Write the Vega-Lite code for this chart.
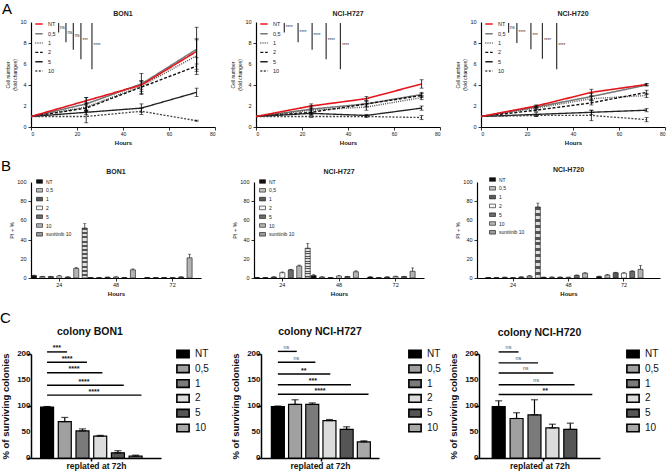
{
"$schema": "https://vega.github.io/schema/vega-lite/v6.json",
"padding": {"left": 0, "top": 2, "right": 0, "bottom": 0},
"background": "white",
"config": {
 "font": "Liberation Sans",
 "view": {"stroke": null},
 "axis": {"grid": false, "domainColor": "#000", "tickColor": "#000", "labelColor": "#111", "titleColor": "#111", "labelFont": "Liberation Sans", "titleFont": "Liberation Sans"},
 "legend": {"labelFont": "Liberation Sans", "labelColor": "#222"},
 "title": {"font": "Liberation Sans", "fontSize": 7, "fontWeight": "bold", "color": "#222", "offset": 2},
 "text": {"font": "Liberation Sans"}
},
"datasets": {
 "ytA": [{"v":0,"t":"0"},{"v":2,"t":"2"},{"v":4,"t":"4"},{"v":6,"t":"6"},{"v":8,"t":"8"},{"v":10,"t":"10"}],
 "ytB": [{"v":0,"t":"0"},{"v":20,"t":"20"},{"v":40,"t":"40"},{"v":60,"t":"60"},{"v":80,"t":"80"},{"v":100,"t":"100"}],
 "ytC": [{"v":0,"t":"0"},{"v":50,"t":"50"},{"v":100,"t":"100"},{"v":150,"t":"150"},{"v":200,"t":"200"}],
 "lines": [
  {"cell":"BON1","dose":"0,5","h":0,"v":1,"lo":1,"hi":1},
  {"cell":"BON1","dose":"0,5","h":24,"v":2.2,"lo":1.6,"hi":2.8},
  {"cell":"BON1","dose":"0,5","h":48,"v":4.1,"lo":3.1,"hi":5.1},
  {"cell":"BON1","dose":"0,5","h":72,"v":7.4,"lo":5.3,"hi":9.5},
  {"cell":"BON1","dose":"1","h":0,"v":1,"lo":1,"hi":1},
  {"cell":"BON1","dose":"1","h":24,"v":1.9,"lo":1.5,"hi":2.3},
  {"cell":"BON1","dose":"1","h":48,"v":3.9,"lo":3.4,"hi":4.4},
  {"cell":"BON1","dose":"1","h":72,"v":6.8,"lo":5.5,"hi":8.3},
  {"cell":"BON1","dose":"2","h":0,"v":1,"lo":1,"hi":1},
  {"cell":"BON1","dose":"2","h":24,"v":1.8,"lo":1.5,"hi":2.1},
  {"cell":"BON1","dose":"2","h":48,"v":3.8,"lo":3.2,"hi":4.3},
  {"cell":"BON1","dose":"2","h":72,"v":5.8,"lo":5.0,"hi":6.6},
  {"cell":"BON1","dose":"5","h":0,"v":1,"lo":1,"hi":1},
  {"cell":"BON1","dose":"5","h":24,"v":1.4,"lo":1.2,"hi":1.6},
  {"cell":"BON1","dose":"5","h":48,"v":1.8,"lo":1.4,"hi":2.2},
  {"cell":"BON1","dose":"5","h":72,"v":3.3,"lo":2.9,"hi":3.7},
  {"cell":"BON1","dose":"10","h":0,"v":1,"lo":1,"hi":1},
  {"cell":"BON1","dose":"10","h":24,"v":1.0,"lo":0.4,"hi":1.6},
  {"cell":"BON1","dose":"10","h":48,"v":1.5,"lo":1.2,"hi":1.8},
  {"cell":"BON1","dose":"10","h":72,"v":0.6,"lo":0.55,"hi":0.65},
  {"cell":"BON1","dose":"NT","h":0,"v":1,"lo":1,"hi":1},
  {"cell":"BON1","dose":"NT","h":24,"v":2.5,"lo":2.2,"hi":2.8},
  {"cell":"BON1","dose":"NT","h":48,"v":4.0,"lo":3.6,"hi":4.4},
  {"cell":"BON1","dose":"NT","h":72,"v":7.2,"lo":6.0,"hi":8.4},
  {"cell":"NCI-H727","dose":"0,5","h":0,"v":1,"lo":1,"hi":1},
  {"cell":"NCI-H727","dose":"0,5","h":24,"v":1.7,"lo":1.4,"hi":2.0},
  {"cell":"NCI-H727","dose":"0,5","h":48,"v":2.2,"lo":1.9,"hi":2.5},
  {"cell":"NCI-H727","dose":"0,5","h":72,"v":3.1,"lo":2.9,"hi":3.3},
  {"cell":"NCI-H727","dose":"1","h":0,"v":1,"lo":1,"hi":1},
  {"cell":"NCI-H727","dose":"1","h":24,"v":1.6,"lo":1.4,"hi":1.8},
  {"cell":"NCI-H727","dose":"1","h":48,"v":1.9,"lo":1.6,"hi":2.2},
  {"cell":"NCI-H727","dose":"1","h":72,"v":2.8,"lo":2.6,"hi":3.0},
  {"cell":"NCI-H727","dose":"2","h":0,"v":1,"lo":1,"hi":1},
  {"cell":"NCI-H727","dose":"2","h":24,"v":1.4,"lo":1.2,"hi":1.6},
  {"cell":"NCI-H727","dose":"2","h":48,"v":2.2,"lo":2.0,"hi":2.4},
  {"cell":"NCI-H727","dose":"2","h":72,"v":3.0,"lo":2.8,"hi":3.2},
  {"cell":"NCI-H727","dose":"5","h":0,"v":1,"lo":1,"hi":1},
  {"cell":"NCI-H727","dose":"5","h":24,"v":1.3,"lo":1.2,"hi":1.4},
  {"cell":"NCI-H727","dose":"5","h":48,"v":1.1,"lo":1.0,"hi":1.2},
  {"cell":"NCI-H727","dose":"5","h":72,"v":1.8,"lo":1.6,"hi":2.0},
  {"cell":"NCI-H727","dose":"10","h":0,"v":1,"lo":1,"hi":1},
  {"cell":"NCI-H727","dose":"10","h":24,"v":1.0,"lo":0.9,"hi":1.1},
  {"cell":"NCI-H727","dose":"10","h":48,"v":1.0,"lo":0.9,"hi":1.1},
  {"cell":"NCI-H727","dose":"10","h":72,"v":0.9,"lo":0.7,"hi":1.1},
  {"cell":"NCI-H727","dose":"NT","h":0,"v":1,"lo":1,"hi":1},
  {"cell":"NCI-H727","dose":"NT","h":24,"v":2.0,"lo":1.8,"hi":2.2},
  {"cell":"NCI-H727","dose":"NT","h":48,"v":2.7,"lo":2.5,"hi":2.9},
  {"cell":"NCI-H727","dose":"NT","h":72,"v":4.1,"lo":3.7,"hi":4.5},
  {"cell":"NCI-H720","dose":"0,5","h":0,"v":1,"lo":1,"hi":1},
  {"cell":"NCI-H720","dose":"0,5","h":24,"v":1.9,"lo":1.8,"hi":2.0},
  {"cell":"NCI-H720","dose":"0,5","h":48,"v":2.9,"lo":2.6,"hi":3.2},
  {"cell":"NCI-H720","dose":"0,5","h":72,"v":4.0,"lo":3.9,"hi":4.1},
  {"cell":"NCI-H720","dose":"1","h":0,"v":1,"lo":1,"hi":1},
  {"cell":"NCI-H720","dose":"1","h":24,"v":1.8,"lo":1.7,"hi":1.9},
  {"cell":"NCI-H720","dose":"1","h":48,"v":2.7,"lo":2.5,"hi":2.9},
  {"cell":"NCI-H720","dose":"1","h":72,"v":3.0,"lo":2.8,"hi":3.2},
  {"cell":"NCI-H720","dose":"2","h":0,"v":1,"lo":1,"hi":1},
  {"cell":"NCI-H720","dose":"2","h":24,"v":1.6,"lo":1.5,"hi":1.7},
  {"cell":"NCI-H720","dose":"2","h":48,"v":2.3,"lo":2.1,"hi":2.5},
  {"cell":"NCI-H720","dose":"2","h":72,"v":3.3,"lo":3.1,"hi":3.5},
  {"cell":"NCI-H720","dose":"5","h":0,"v":1,"lo":1,"hi":1},
  {"cell":"NCI-H720","dose":"5","h":24,"v":1.2,"lo":1.0,"hi":1.4},
  {"cell":"NCI-H720","dose":"5","h":48,"v":1.4,"lo":1.2,"hi":1.6},
  {"cell":"NCI-H720","dose":"5","h":72,"v":1.6,"lo":1.45,"hi":1.75},
  {"cell":"NCI-H720","dose":"10","h":0,"v":1,"lo":1,"hi":1},
  {"cell":"NCI-H720","dose":"10","h":24,"v":1.1,"lo":1.0,"hi":1.2},
  {"cell":"NCI-H720","dose":"10","h":48,"v":1.1,"lo":0.6,"hi":1.6},
  {"cell":"NCI-H720","dose":"10","h":72,"v":0.7,"lo":0.5,"hi":0.9},
  {"cell":"NCI-H720","dose":"NT","h":0,"v":1,"lo":1,"hi":1},
  {"cell":"NCI-H720","dose":"NT","h":24,"v":2.0,"lo":1.9,"hi":2.1},
  {"cell":"NCI-H720","dose":"NT","h":48,"v":3.3,"lo":3.0,"hi":3.6},
  {"cell":"NCI-H720","dose":"NT","h":72,"v":4.05,"lo":3.95,"hi":4.15}
 ],
 "sigA": [
  {"cell":"BON1","sx":12.0,"y1":9.9,"y2":9.0,"mid":9.45,"lab":"ns"},
  {"cell":"BON1","sx":15.2,"y1":9.9,"y2":8.06,"mid":8.98,"lab":"ns"},
  {"cell":"BON1","sx":18.4,"y1":9.9,"y2":7.36,"mid":8.63,"lab":"ns"},
  {"cell":"BON1","sx":21.7,"y1":9.9,"y2":6.46,"mid":8.18,"lab":"***"},
  {"cell":"BON1","sx":26.5,"y1":9.9,"y2":5.5,"mid":7.7,"lab":"****"},
  {"cell":"NCI-H727","sx":12.3,"y1":9.9,"y2":9.0,"mid":9.45,"lab":"****"},
  {"cell":"NCI-H727","sx":18.3,"y1":9.9,"y2":8.06,"mid":8.98,"lab":"****"},
  {"cell":"NCI-H727","sx":24.4,"y1":9.9,"y2":7.36,"mid":8.63,"lab":"****"},
  {"cell":"NCI-H727","sx":30.5,"y1":9.9,"y2":6.46,"mid":8.18,"lab":"****"},
  {"cell":"NCI-H727","sx":36.7,"y1":9.9,"y2":5.5,"mid":7.7,"lab":"****"},
  {"cell":"NCI-H720","sx":12.0,"y1":9.9,"y2":8.98,"mid":9.44,"lab":"ns"},
  {"cell":"NCI-H720","sx":15.6,"y1":9.9,"y2":8.0,"mid":8.95,"lab":"****"},
  {"cell":"NCI-H720","sx":21.7,"y1":9.9,"y2":7.4,"mid":8.65,"lab":"***"},
  {"cell":"NCI-H720","sx":26.7,"y1":9.9,"y2":6.5,"mid":8.2,"lab":"****"},
  {"cell":"NCI-H720","sx":32.9,"y1":9.9,"y2":5.5,"mid":7.7,"lab":"****"}
 ],
 "pi": [
  {"cell":"BON1","hr":"24","grp":"NT","v":2.5,"top":3.0},
  {"cell":"BON1","hr":"24","grp":"0,5","v":1.5,"top":1.8},
  {"cell":"BON1","hr":"24","grp":"1","v":1.5,"top":1.8},
  {"cell":"BON1","hr":"24","grp":"2","v":2.0,"top":2.5},
  {"cell":"BON1","hr":"24","grp":"5","v":1.0,"top":1.2},
  {"cell":"BON1","hr":"24","grp":"10","v":10,"top":11},
  {"cell":"BON1","hr":"24","grp":"sunitinib 10","v":52,"top":56.6},
  {"cell":"BON1","hr":"48","grp":"NT","v":0.5,"top":0.7},
  {"cell":"BON1","hr":"48","grp":"0,5","v":0.5,"top":0.7},
  {"cell":"BON1","hr":"48","grp":"1","v":0.8,"top":1.0},
  {"cell":"BON1","hr":"48","grp":"2","v":1.0,"top":1.3},
  {"cell":"BON1","hr":"48","grp":"5","v":0.5,"top":0.7},
  {"cell":"BON1","hr":"48","grp":"10","v":8.5,"top":9.5},
  {"cell":"BON1","hr":"72","grp":"NT","v":0.5,"top":0.7},
  {"cell":"BON1","hr":"72","grp":"0,5","v":0.5,"top":0.7},
  {"cell":"BON1","hr":"72","grp":"1","v":0.5,"top":0.7},
  {"cell":"BON1","hr":"72","grp":"2","v":0.5,"top":0.7},
  {"cell":"BON1","hr":"72","grp":"5","v":1.0,"top":1.3},
  {"cell":"BON1","hr":"72","grp":"10","v":21,"top":24.8},
  {"cell":"NCI-H727","hr":"24","grp":"NT","v":0.5,"top":0.7},
  {"cell":"NCI-H727","hr":"24","grp":"0,5","v":0.5,"top":0.7},
  {"cell":"NCI-H727","hr":"24","grp":"1","v":1.0,"top":1.3},
  {"cell":"NCI-H727","hr":"24","grp":"2","v":5.5,"top":6.3},
  {"cell":"NCI-H727","hr":"24","grp":"5","v":8.5,"top":9.1},
  {"cell":"NCI-H727","hr":"24","grp":"10","v":12.5,"top":13.5},
  {"cell":"NCI-H727","hr":"24","grp":"sunitinib 10","v":31,"top":36},
  {"cell":"NCI-H727","hr":"48","grp":"NT","v":2.5,"top":3.5},
  {"cell":"NCI-H727","hr":"48","grp":"0,5","v":1.0,"top":1.3},
  {"cell":"NCI-H727","hr":"48","grp":"1","v":0.5,"top":0.7},
  {"cell":"NCI-H727","hr":"48","grp":"2","v":2.0,"top":2.5},
  {"cell":"NCI-H727","hr":"48","grp":"5","v":1.5,"top":1.8},
  {"cell":"NCI-H727","hr":"48","grp":"10","v":6.5,"top":7.5},
  {"cell":"NCI-H727","hr":"72","grp":"NT","v":1.0,"top":1.3},
  {"cell":"NCI-H727","hr":"72","grp":"0,5","v":0.5,"top":0.7},
  {"cell":"NCI-H727","hr":"72","grp":"1","v":1.0,"top":1.3},
  {"cell":"NCI-H727","hr":"72","grp":"2","v":1.5,"top":2.0},
  {"cell":"NCI-H727","hr":"72","grp":"5","v":1.5,"top":1.8},
  {"cell":"NCI-H727","hr":"72","grp":"10","v":7,"top":10.5},
  {"cell":"NCI-H720","hr":"24","grp":"NT","v":0.5,"top":0.7},
  {"cell":"NCI-H720","hr":"24","grp":"0,5","v":0.5,"top":0.7},
  {"cell":"NCI-H720","hr":"24","grp":"1","v":0.7,"top":0.9},
  {"cell":"NCI-H720","hr":"24","grp":"2","v":0.5,"top":0.7},
  {"cell":"NCI-H720","hr":"24","grp":"5","v":1.0,"top":1.3},
  {"cell":"NCI-H720","hr":"24","grp":"10","v":2.0,"top":2.5},
  {"cell":"NCI-H720","hr":"24","grp":"sunitinib 10","v":74,"top":78},
  {"cell":"NCI-H720","hr":"48","grp":"NT","v":0.7,"top":0.9},
  {"cell":"NCI-H720","hr":"48","grp":"0,5","v":0.7,"top":1.2},
  {"cell":"NCI-H720","hr":"48","grp":"1","v":0.8,"top":1.0},
  {"cell":"NCI-H720","hr":"48","grp":"2","v":0.7,"top":0.9},
  {"cell":"NCI-H720","hr":"48","grp":"5","v":2.7,"top":3.2},
  {"cell":"NCI-H720","hr":"48","grp":"10","v":5,"top":5.5},
  {"cell":"NCI-H720","hr":"72","grp":"NT","v":1.5,"top":2.0},
  {"cell":"NCI-H720","hr":"72","grp":"0,5","v":3,"top":3.8},
  {"cell":"NCI-H720","hr":"72","grp":"1","v":5.5,"top":6.0},
  {"cell":"NCI-H720","hr":"72","grp":"2","v":5,"top":5.5},
  {"cell":"NCI-H720","hr":"72","grp":"5","v":7,"top":7.5},
  {"cell":"NCI-H720","hr":"72","grp":"10","v":9,"top":13}
 ],
 "col": [
  {"cell":"BON1","i":0,"grp":"NT","v":98,"hi":99},
  {"cell":"BON1","i":1,"grp":"0,5","v":70,"hi":78},
  {"cell":"BON1","i":2,"grp":"1","v":52,"hi":56},
  {"cell":"BON1","i":3,"grp":"2","v":42,"hi":43.5},
  {"cell":"BON1","i":4,"grp":"5","v":10,"hi":14},
  {"cell":"BON1","i":5,"grp":"10","v":3.5,"hi":5.5},
  {"cell":"NCI-H727","i":0,"grp":"NT","v":99,"hi":100},
  {"cell":"NCI-H727","i":1,"grp":"0,5","v":103,"hi":112},
  {"cell":"NCI-H727","i":2,"grp":"1","v":103,"hi":106},
  {"cell":"NCI-H727","i":3,"grp":"2","v":72,"hi":74},
  {"cell":"NCI-H727","i":4,"grp":"5","v":55,"hi":60},
  {"cell":"NCI-H727","i":5,"grp":"10","v":31,"hi":33},
  {"cell":"NCI-H720","i":0,"grp":"NT","v":99,"hi":110},
  {"cell":"NCI-H720","i":1,"grp":"0,5","v":76,"hi":87},
  {"cell":"NCI-H720","i":2,"grp":"1","v":83,"hi":112},
  {"cell":"NCI-H720","i":3,"grp":"2","v":58,"hi":65},
  {"cell":"NCI-H720","i":4,"grp":"5","v":55,"hi":67}
 ],
 "sigC": [
  {"cell":"BON1","x0":0,"x2":1.13,"y":204,"mx":0.55,"lab":"***"},
  {"cell":"BON1","x0":0,"x2":2.25,"y":184,"mx":1.13,"lab":"****"},
  {"cell":"BON1","x0":0,"x2":3.12,"y":164,"mx":1.52,"lab":"****"},
  {"cell":"BON1","x0":0,"x2":4.33,"y":140,"mx":2.08,"lab":"****"},
  {"cell":"BON1","x0":0,"x2":5.33,"y":121,"mx":2.65,"lab":"****"},
  {"cell":"NCI-H727","x0":0,"x2":1.1,"y":205,"mx":0.5,"lab":"ns"},
  {"cell":"NCI-H727","x0":0,"x2":2.18,"y":184,"mx":1.08,"lab":"ns"},
  {"cell":"NCI-H727","x0":0,"x2":3.05,"y":161.5,"mx":1.5,"lab":"**"},
  {"cell":"NCI-H727","x0":0,"x2":4.25,"y":141,"mx":2.04,"lab":"***"},
  {"cell":"NCI-H727","x0":0,"x2":5.27,"y":122.5,"mx":2.45,"lab":"****"},
  {"cell":"NCI-H720","x0":0,"x2":1.11,"y":204,"mx":0.55,"lab":"ns"},
  {"cell":"NCI-H720","x0":0,"x2":2.2,"y":183,"mx":1.1,"lab":"ns"},
  {"cell":"NCI-H720","x0":0,"x2":3.05,"y":163.5,"mx":1.5,"lab":"ns"},
  {"cell":"NCI-H720","x0":0,"x2":4.24,"y":141,"mx":2.1,"lab":"ns"},
  {"cell":"NCI-H720","x0":0,"x2":5.23,"y":122,"mx":2.6,"lab":"**"}
 ]
},
"spacing": 13,
"bounds": "full",
"resolve": {"scale": {"color": "independent", "strokeDash": "independent", "strokeWidth": "independent", "xOffset": "independent"}},
"vconcat": [
 {
  "title": {"text": "A", "anchor": "start", "frame": "group", "fontSize": 15, "fontWeight": "normal", "color": "#000", "offset": -7, "dx": -29},
  "spacing": 41,
  "bounds": "flush",
  "resolve": {"scale": {"color": "independent", "strokeDash": "independent", "strokeWidth": "independent"}},
  "hconcat": [
   {
    "width": 184, "height": 105, "title": {"text": "BON1"},
    "layer": [
     {"data": {"name": "lines"}, "transform": [{"filter": "datum.cell === 'BON1'"}],
      "mark": {"type": "line"},
      "encoding": {
       "x": {"field": "h", "type": "quantitative", "title": "Hours", "scale": {"domain": [0, 80], "nice": false},
             "axis": {"values": [0,2.5,5,7.5,10,12.5,15,17.5,20,22.5,25,27.5,30,32.5,35,37.5,40,42.5,45,47.5,50,52.5,55,57.5,60,62.5,65,67.5,70,72.5,75,77.5,80], "labelExpr": "datum.value % 20 === 0 ? datum.label : ''", "labelOverlap": false, "tickSize": {"condition": {"test": "datum.value % 20 === 0", "value": 3}, "value": 1.6}, "labelFontSize": 5, "labelPadding": 1, "titleFontSize": 6, "titleFontWeight": "bold", "titlePadding": 3, "domainWidth": 1.2, "tickWidth": 0.8}},
       "y": {"field": "v", "type": "quantitative", "title": ["Cell number", "(fold changes)"], "scale": {"domain": [0, 10], "nice": false},
             "axis": {"values": [0,2,4,6,8,10], "labels": false, "tickSize": 3, "titleFontSize": 5, "titleFontWeight": "normal", "titlePadding": 10, "domainWidth": 1.2, "tickWidth": 0.8}},
       "color": {"field": "dose", "type": "nominal", "scale": {"domain": ["NT","0,5","1","2","5","10"], "range": ["#e3161d","#777777","#555555","#111111","#222222","#444444"]},
                 "legend": {"orient": "none", "legendX": 3, "legendY": -3, "title": null, "labelFontSize": 5.5, "labelColor": "#222", "symbolType": "stroke", "symbolSize": 55, "symbolStrokeWidth": 1.2, "rowPadding": 1.3, "labelOffset": 4, "padding": 0}},
       "strokeDash": {"field": "dose", "type": "nominal", "scale": {"domain": ["NT","0,5","1","2","5","10"], "range": [[1,0],[1,0],[1,1.2],[3,1.8],[1,0],[2,1.5]]}},
       "strokeWidth": {"field": "dose", "type": "ordinal", "scale": {"domain": ["NT","0,5","1","2","5","10"], "range": [1.6,1.3,0.9,1.3,0.9,0.9]}, "legend": null}
      }},
     {"data": {"name": "lines"}, "transform": [{"filter": "datum.cell === 'BON1' && datum.h > 0"}],
      "mark": {"type": "errorbar", "color": "#000", "thickness": 0.8, "ticks": {"size": 4, "thickness": 0.8}},
      "encoding": {"x": {"field": "h", "type": "quantitative", "title": "Hours"}, "y": {"field": "lo", "type": "quantitative", "title": ["Cell number", "(fold changes)"]}, "y2": {"field": "hi"}}},
     {"data": {"name": "sigA"}, "transform": [{"filter": "datum.cell === 'BON1'"}],
      "mark": {"type": "rule", "color": "#333", "strokeWidth": 1.2},
      "encoding": {"x": {"field": "sx", "type": "quantitative", "title": "Hours"}, "y": {"field": "y1", "type": "quantitative", "title": ["Cell number", "(fold changes)"]}, "y2": {"field": "y2"}}},
     {"data": {"name": "sigA"}, "transform": [{"filter": "datum.cell === 'BON1'"}],
      "mark": {"type": "text", "align": "left", "baseline": "middle", "dx": 1.5, "fontSize": 4.5, "fill": "#333"},
      "encoding": {"x": {"field": "sx", "type": "quantitative", "title": "Hours"}, "y": {"field": "mid", "type": "quantitative", "title": ["Cell number", "(fold changes)"]}, "text": {"field": "lab"}}},
     {"data": {"name": "ytA"},
      "mark": {"type": "text", "align": "right", "baseline": "middle", "dx": -4.5, "fontSize": 5.5, "fill": "#111"},
      "encoding": {"x": {"datum": 0, "type": "quantitative"}, "y": {"field": "v", "type": "quantitative", "title": ["Cell number", "(fold changes)"]}, "text": {"field": "t"}}}
    ]
   },
   {
    "width": 184, "height": 105, "title": {"text": "NCI-H727"},
    "layer": [
     {"data": {"name": "lines"}, "transform": [{"filter": "datum.cell === 'NCI-H727'"}],
      "mark": {"type": "line"},
      "encoding": {
       "x": {"field": "h", "type": "quantitative", "title": "Hours", "scale": {"domain": [0, 80], "nice": false},
             "axis": {"values": [0,2.5,5,7.5,10,12.5,15,17.5,20,22.5,25,27.5,30,32.5,35,37.5,40,42.5,45,47.5,50,52.5,55,57.5,60,62.5,65,67.5,70,72.5,75,77.5,80], "labelExpr": "datum.value % 20 === 0 ? datum.label : ''", "labelOverlap": false, "tickSize": {"condition": {"test": "datum.value % 20 === 0", "value": 3}, "value": 1.6}, "labelFontSize": 5, "labelPadding": 1, "titleFontSize": 6, "titleFontWeight": "bold", "titlePadding": 3, "domainWidth": 1.2, "tickWidth": 0.8}},
       "y": {"field": "v", "type": "quantitative", "title": ["Cell number", "(fold changes)"], "scale": {"domain": [0, 10], "nice": false},
             "axis": {"values": [0,2,4,6,8,10], "labels": false, "tickSize": 3, "titleFontSize": 5, "titleFontWeight": "normal", "titlePadding": 10, "domainWidth": 1.2, "tickWidth": 0.8}},
       "color": {"field": "dose", "type": "nominal", "scale": {"domain": ["NT","0,5","1","2","5","10"], "range": ["#e3161d","#777777","#555555","#111111","#222222","#444444"]},
                 "legend": {"orient": "none", "legendX": 3, "legendY": -3, "title": null, "labelFontSize": 5.5, "labelColor": "#222", "symbolType": "stroke", "symbolSize": 55, "symbolStrokeWidth": 1.2, "rowPadding": 1.3, "labelOffset": 4, "padding": 0}},
       "strokeDash": {"field": "dose", "type": "nominal", "scale": {"domain": ["NT","0,5","1","2","5","10"], "range": [[1,0],[1,0],[1,1.2],[3,1.8],[1,0],[2,1.5]]}},
       "strokeWidth": {"field": "dose", "type": "ordinal", "scale": {"domain": ["NT","0,5","1","2","5","10"], "range": [1.6,1.3,0.9,1.3,0.9,0.9]}, "legend": null}
      }},
     {"data": {"name": "lines"}, "transform": [{"filter": "datum.cell === 'NCI-H727' && datum.h > 0"}],
      "mark": {"type": "errorbar", "color": "#000", "thickness": 0.8, "ticks": {"size": 4, "thickness": 0.8}},
      "encoding": {"x": {"field": "h", "type": "quantitative", "title": "Hours"}, "y": {"field": "lo", "type": "quantitative", "title": ["Cell number", "(fold changes)"]}, "y2": {"field": "hi"}}},
     {"data": {"name": "sigA"}, "transform": [{"filter": "datum.cell === 'NCI-H727'"}],
      "mark": {"type": "rule", "color": "#333", "strokeWidth": 1.2},
      "encoding": {"x": {"field": "sx", "type": "quantitative", "title": "Hours"}, "y": {"field": "y1", "type": "quantitative", "title": ["Cell number", "(fold changes)"]}, "y2": {"field": "y2"}}},
     {"data": {"name": "sigA"}, "transform": [{"filter": "datum.cell === 'NCI-H727'"}],
      "mark": {"type": "text", "align": "left", "baseline": "middle", "dx": 1.5, "fontSize": 4.5, "fill": "#333"},
      "encoding": {"x": {"field": "sx", "type": "quantitative", "title": "Hours"}, "y": {"field": "mid", "type": "quantitative", "title": ["Cell number", "(fold changes)"]}, "text": {"field": "lab"}}},
     {"data": {"name": "ytA"},
      "mark": {"type": "text", "align": "right", "baseline": "middle", "dx": -4.5, "fontSize": 5.5, "fill": "#111"},
      "encoding": {"x": {"datum": 0, "type": "quantitative"}, "y": {"field": "v", "type": "quantitative", "title": ["Cell number", "(fold changes)"]}, "text": {"field": "t"}}}
    ]
   },
   {
    "width": 184, "height": 105, "title": {"text": "NCI-H720"},
    "layer": [
     {"data": {"name": "lines"}, "transform": [{"filter": "datum.cell === 'NCI-H720'"}],
      "mark": {"type": "line"},
      "encoding": {
       "x": {"field": "h", "type": "quantitative", "title": "Hours", "scale": {"domain": [0, 80], "nice": false},
             "axis": {"values": [0,2.5,5,7.5,10,12.5,15,17.5,20,22.5,25,27.5,30,32.5,35,37.5,40,42.5,45,47.5,50,52.5,55,57.5,60,62.5,65,67.5,70,72.5,75,77.5,80], "labelExpr": "datum.value % 20 === 0 ? datum.label : ''", "labelOverlap": false, "tickSize": {"condition": {"test": "datum.value % 20 === 0", "value": 3}, "value": 1.6}, "labelFontSize": 5, "labelPadding": 1, "titleFontSize": 6, "titleFontWeight": "bold", "titlePadding": 3, "domainWidth": 1.2, "tickWidth": 0.8}},
       "y": {"field": "v", "type": "quantitative", "title": ["Cell number", "(fold changes)"], "scale": {"domain": [0, 10], "nice": false},
             "axis": {"values": [0,2,4,6,8,10], "labels": false, "tickSize": 3, "titleFontSize": 5, "titleFontWeight": "normal", "titlePadding": 10, "domainWidth": 1.2, "tickWidth": 0.8}},
       "color": {"field": "dose", "type": "nominal", "scale": {"domain": ["NT","0,5","1","2","5","10"], "range": ["#e3161d","#777777","#555555","#111111","#222222","#444444"]},
                 "legend": {"orient": "none", "legendX": 3, "legendY": -3, "title": null, "labelFontSize": 5.5, "labelColor": "#222", "symbolType": "stroke", "symbolSize": 55, "symbolStrokeWidth": 1.2, "rowPadding": 1.3, "labelOffset": 4, "padding": 0}},
       "strokeDash": {"field": "dose", "type": "nominal", "scale": {"domain": ["NT","0,5","1","2","5","10"], "range": [[1,0],[1,0],[1,1.2],[3,1.8],[1,0],[2,1.5]]}},
       "strokeWidth": {"field": "dose", "type": "ordinal", "scale": {"domain": ["NT","0,5","1","2","5","10"], "range": [1.6,1.3,0.9,1.3,0.9,0.9]}, "legend": null}
      }},
     {"data": {"name": "lines"}, "transform": [{"filter": "datum.cell === 'NCI-H720' && datum.h > 0"}],
      "mark": {"type": "errorbar", "color": "#000", "thickness": 0.8, "ticks": {"size": 4, "thickness": 0.8}},
      "encoding": {"x": {"field": "h", "type": "quantitative", "title": "Hours"}, "y": {"field": "lo", "type": "quantitative", "title": ["Cell number", "(fold changes)"]}, "y2": {"field": "hi"}}},
     {"data": {"name": "sigA"}, "transform": [{"filter": "datum.cell === 'NCI-H720'"}],
      "mark": {"type": "rule", "color": "#333", "strokeWidth": 1.2},
      "encoding": {"x": {"field": "sx", "type": "quantitative", "title": "Hours"}, "y": {"field": "y1", "type": "quantitative", "title": ["Cell number", "(fold changes)"]}, "y2": {"field": "y2"}}},
     {"data": {"name": "sigA"}, "transform": [{"filter": "datum.cell === 'NCI-H720'"}],
      "mark": {"type": "text", "align": "left", "baseline": "middle", "dx": 1.5, "fontSize": 4.5, "fill": "#333"},
      "encoding": {"x": {"field": "sx", "type": "quantitative", "title": "Hours"}, "y": {"field": "mid", "type": "quantitative", "title": ["Cell number", "(fold changes)"]}, "text": {"field": "lab"}}},
     {"data": {"name": "ytA"},
      "mark": {"type": "text", "align": "right", "baseline": "middle", "dx": -4.5, "fontSize": 5.5, "fill": "#111"},
      "encoding": {"x": {"datum": 0, "type": "quantitative"}, "y": {"field": "v", "type": "quantitative", "title": ["Cell number", "(fold changes)"]}, "text": {"field": "t"}}}
    ]
   }
  ]
 },
 {
  "title": {"text": "B", "anchor": "start", "frame": "group", "fontSize": 15, "fontWeight": "normal", "color": "#000", "offset": -7.5, "dx": -30},
  "spacing": 53,
  "bounds": "flush",
  "resolve": {"scale": {"color": "independent", "xOffset": "independent"}},
  "hconcat": [
   {
    "width": 170, "height": 96, "title": {"text": "BON1", "offset": 3},
    "layer": [
     {"data": {"name": "pi"}, "transform": [{"filter": "datum.cell === 'BON1'"}],
      "mark": {"type": "bar", "stroke": "#111", "strokeWidth": 0.6},
      "encoding": {
       "x": {"field": "hr", "type": "nominal", "title": "Hours", "scale": {"domain": ["24","48","72"], "paddingInner": 0, "paddingOuter": 0}, "axis": {"labelAngle": 0, "labelFontSize": 5.5, "labelPadding": 1, "tickSize": 3, "titleFontSize": 6, "titleFontWeight": "bold", "titlePadding": 3, "domainWidth": 1.2, "tickWidth": 0.8}},
       "xOffset": {"field": "grp", "type": "nominal", "scale": {"domain": ["NT","0,5","1","2","5","10","sunitinib 10"], "paddingInner": 0.4, "paddingOuter": 0.05}},
       "y": {"field": "v", "type": "quantitative", "stack": null, "title": "PI + %", "scale": {"domain": [0, 100], "nice": false}, "axis": {"values": [0,20,40,60,80,100], "labels": false, "tickSize": 3, "titleFontSize": 5.5, "titleFontWeight": "normal", "titlePadding": 13, "domainWidth": 1.2, "tickWidth": 0.8}},
       "color": {"condition": {"test": "datum.grp === 'sunitinib 10'", "value": {"gradient": "linear", "x1": 0, "y1": 0, "x2": 0, "y2": 1, "stops": [
         {"offset":0,"color":"#555"},{"offset":0.0417,"color":"#555"},{"offset":0.0417,"color":"#e0e0e0"},{"offset":0.0833,"color":"#e0e0e0"},
         {"offset":0.0833,"color":"#555"},{"offset":0.125,"color":"#555"},{"offset":0.125,"color":"#e0e0e0"},{"offset":0.1667,"color":"#e0e0e0"},
         {"offset":0.1667,"color":"#555"},{"offset":0.2083,"color":"#555"},{"offset":0.2083,"color":"#e0e0e0"},{"offset":0.25,"color":"#e0e0e0"},
         {"offset":0.25,"color":"#555"},{"offset":0.2917,"color":"#555"},{"offset":0.2917,"color":"#e0e0e0"},{"offset":0.3333,"color":"#e0e0e0"},
         {"offset":0.3333,"color":"#555"},{"offset":0.375,"color":"#555"},{"offset":0.375,"color":"#e0e0e0"},{"offset":0.4167,"color":"#e0e0e0"},
         {"offset":0.4167,"color":"#555"},{"offset":0.4583,"color":"#555"},{"offset":0.4583,"color":"#e0e0e0"},{"offset":0.5,"color":"#e0e0e0"},
         {"offset":0.5,"color":"#555"},{"offset":0.5417,"color":"#555"},{"offset":0.5417,"color":"#e0e0e0"},{"offset":0.5833,"color":"#e0e0e0"},
         {"offset":0.5833,"color":"#555"},{"offset":0.625,"color":"#555"},{"offset":0.625,"color":"#e0e0e0"},{"offset":0.6667,"color":"#e0e0e0"},
         {"offset":0.6667,"color":"#555"},{"offset":0.7083,"color":"#555"},{"offset":0.7083,"color":"#e0e0e0"},{"offset":0.75,"color":"#e0e0e0"},
         {"offset":0.75,"color":"#555"},{"offset":0.7917,"color":"#555"},{"offset":0.7917,"color":"#e0e0e0"},{"offset":0.8333,"color":"#e0e0e0"},
         {"offset":0.8333,"color":"#555"},{"offset":0.875,"color":"#555"},{"offset":0.875,"color":"#e0e0e0"},{"offset":0.9167,"color":"#e0e0e0"},
         {"offset":0.9167,"color":"#555"},{"offset":0.9583,"color":"#555"},{"offset":0.9583,"color":"#e0e0e0"},{"offset":1,"color":"#e0e0e0"}]}},
         "field": "grp", "type": "nominal", "scale": {"domain": ["NT","0,5","1","2","5","10","sunitinib 10"], "range": ["#111111","#bdbdbd","#5a5a5a","#f7f7f7","#6b6b6b","#b3b3b3","#999999"]},
         "legend": {"orient": "none", "legendX": 5, "legendY": -4, "title": null, "labelFontSize": 5, "labelColor": "#222", "symbolType": "M-1,-0.6H1V0.6H-1Z", "symbolSize": 36, "symbolStrokeColor": "#111", "symbolStrokeWidth": 0.6, "rowPadding": 1.8, "labelOffset": 3, "padding": 0}}
      }},
     {"data": {"name": "pi"}, "transform": [{"filter": "datum.cell === 'BON1' && datum.top > datum.v"}],
      "mark": {"type": "rule", "color": "#111", "strokeWidth": 0.7},
      "encoding": {"x": {"field": "hr", "type": "nominal", "title": "Hours"}, "xOffset": {"field": "grp", "type": "nominal"}, "y": {"field": "v", "type": "quantitative", "title": "PI + %"}, "y2": {"field": "top"}}},
     {"data": {"name": "pi"}, "transform": [{"filter": "datum.cell === 'BON1' && datum.top > datum.v"}],
      "mark": {"type": "tick", "color": "#111", "size": 3, "thickness": 0.7},
      "encoding": {"x": {"field": "hr", "type": "nominal", "title": "Hours"}, "xOffset": {"field": "grp", "type": "nominal"}, "y": {"field": "top", "type": "quantitative", "title": "PI + %"}}},
     {"data": {"name": "ytB"},
      "mark": {"type": "text", "align": "right", "baseline": "middle", "dx": -4.5, "fontSize": 5.5, "fill": "#111"},
      "encoding": {"x": {"datum": "24", "type": "nominal", "bandPosition": 0}, "y": {"field": "v", "type": "quantitative", "title": "PI + %"}, "text": {"field": "t"}}}
    ]
   },
   {
    "width": 170, "height": 96, "title": {"text": "NCI-H727", "offset": 3},
    "layer": [
     {"data": {"name": "pi"}, "transform": [{"filter": "datum.cell === 'NCI-H727'"}],
      "mark": {"type": "bar", "stroke": "#111", "strokeWidth": 0.6},
      "encoding": {
       "x": {"field": "hr", "type": "nominal", "title": "Hours", "scale": {"domain": ["24","48","72"], "paddingInner": 0, "paddingOuter": 0}, "axis": {"labelAngle": 0, "labelFontSize": 5.5, "labelPadding": 1, "tickSize": 3, "titleFontSize": 6, "titleFontWeight": "bold", "titlePadding": 3, "domainWidth": 1.2, "tickWidth": 0.8}},
       "xOffset": {"field": "grp", "type": "nominal", "scale": {"domain": ["NT","0,5","1","2","5","10","sunitinib 10"], "paddingInner": 0.4, "paddingOuter": 0.05}},
       "y": {"field": "v", "type": "quantitative", "stack": null, "title": "PI + %", "scale": {"domain": [0, 100], "nice": false}, "axis": {"values": [0,20,40,60,80,100], "labels": false, "tickSize": 3, "titleFontSize": 5.5, "titleFontWeight": "normal", "titlePadding": 13, "domainWidth": 1.2, "tickWidth": 0.8}},
       "color": {"condition": {"test": "datum.grp === 'sunitinib 10'", "value": {"gradient": "linear", "x1": 0, "y1": 0, "x2": 0, "y2": 1, "stops": [
         {"offset":0,"color":"#555"},{"offset":0.0417,"color":"#555"},{"offset":0.0417,"color":"#e0e0e0"},{"offset":0.0833,"color":"#e0e0e0"},
         {"offset":0.0833,"color":"#555"},{"offset":0.125,"color":"#555"},{"offset":0.125,"color":"#e0e0e0"},{"offset":0.1667,"color":"#e0e0e0"},
         {"offset":0.1667,"color":"#555"},{"offset":0.2083,"color":"#555"},{"offset":0.2083,"color":"#e0e0e0"},{"offset":0.25,"color":"#e0e0e0"},
         {"offset":0.25,"color":"#555"},{"offset":0.2917,"color":"#555"},{"offset":0.2917,"color":"#e0e0e0"},{"offset":0.3333,"color":"#e0e0e0"},
         {"offset":0.3333,"color":"#555"},{"offset":0.375,"color":"#555"},{"offset":0.375,"color":"#e0e0e0"},{"offset":0.4167,"color":"#e0e0e0"},
         {"offset":0.4167,"color":"#555"},{"offset":0.4583,"color":"#555"},{"offset":0.4583,"color":"#e0e0e0"},{"offset":0.5,"color":"#e0e0e0"},
         {"offset":0.5,"color":"#555"},{"offset":0.5417,"color":"#555"},{"offset":0.5417,"color":"#e0e0e0"},{"offset":0.5833,"color":"#e0e0e0"},
         {"offset":0.5833,"color":"#555"},{"offset":0.625,"color":"#555"},{"offset":0.625,"color":"#e0e0e0"},{"offset":0.6667,"color":"#e0e0e0"},
         {"offset":0.6667,"color":"#555"},{"offset":0.7083,"color":"#555"},{"offset":0.7083,"color":"#e0e0e0"},{"offset":0.75,"color":"#e0e0e0"},
         {"offset":0.75,"color":"#555"},{"offset":0.7917,"color":"#555"},{"offset":0.7917,"color":"#e0e0e0"},{"offset":0.8333,"color":"#e0e0e0"},
         {"offset":0.8333,"color":"#555"},{"offset":0.875,"color":"#555"},{"offset":0.875,"color":"#e0e0e0"},{"offset":0.9167,"color":"#e0e0e0"},
         {"offset":0.9167,"color":"#555"},{"offset":0.9583,"color":"#555"},{"offset":0.9583,"color":"#e0e0e0"},{"offset":1,"color":"#e0e0e0"}]}},
         "field": "grp", "type": "nominal", "scale": {"domain": ["NT","0,5","1","2","5","10","sunitinib 10"], "range": ["#111111","#bdbdbd","#5a5a5a","#f7f7f7","#6b6b6b","#b3b3b3","#999999"]},
         "legend": {"orient": "none", "legendX": 5, "legendY": -4, "title": null, "labelFontSize": 5, "labelColor": "#222", "symbolType": "M-1,-0.6H1V0.6H-1Z", "symbolSize": 36, "symbolStrokeColor": "#111", "symbolStrokeWidth": 0.6, "rowPadding": 1.8, "labelOffset": 3, "padding": 0}}
      }},
     {"data": {"name": "pi"}, "transform": [{"filter": "datum.cell === 'NCI-H727' && datum.top > datum.v"}],
      "mark": {"type": "rule", "color": "#111", "strokeWidth": 0.7},
      "encoding": {"x": {"field": "hr", "type": "nominal", "title": "Hours"}, "xOffset": {"field": "grp", "type": "nominal"}, "y": {"field": "v", "type": "quantitative", "title": "PI + %"}, "y2": {"field": "top"}}},
     {"data": {"name": "pi"}, "transform": [{"filter": "datum.cell === 'NCI-H727' && datum.top > datum.v"}],
      "mark": {"type": "tick", "color": "#111", "size": 3, "thickness": 0.7},
      "encoding": {"x": {"field": "hr", "type": "nominal", "title": "Hours"}, "xOffset": {"field": "grp", "type": "nominal"}, "y": {"field": "top", "type": "quantitative", "title": "PI + %"}}},
     {"data": {"name": "ytB"},
      "mark": {"type": "text", "align": "right", "baseline": "middle", "dx": -4.5, "fontSize": 5.5, "fill": "#111"},
      "encoding": {"x": {"datum": "24", "type": "nominal", "bandPosition": 0}, "y": {"field": "v", "type": "quantitative", "title": "PI + %"}, "text": {"field": "t"}}}
    ]
   },
   {
    "width": 183, "height": 96, "title": {"text": "NCI-H720", "offset": 3},
    "layer": [
     {"data": {"name": "pi"}, "transform": [{"filter": "datum.cell === 'NCI-H720'"}],
      "mark": {"type": "bar", "stroke": "#111", "strokeWidth": 0.6},
      "encoding": {
       "x": {"field": "hr", "type": "nominal", "title": "Hours", "scale": {"domain": ["24","48","72"], "paddingInner": 0, "paddingOuter": 0.15}, "axis": {"labelAngle": 0, "labelFontSize": 5.5, "labelPadding": 1, "tickSize": 3, "titleFontSize": 6, "titleFontWeight": "bold", "titlePadding": 3, "domainWidth": 1.2, "tickWidth": 0.8}},
       "xOffset": {"field": "grp", "type": "nominal", "scale": {"domain": ["NT","0,5","1","2","5","10","sunitinib 10"], "paddingInner": 0.4, "paddingOuter": 0.05}},
       "y": {"field": "v", "type": "quantitative", "stack": null, "title": "PI + %", "scale": {"domain": [0, 100], "nice": false}, "axis": {"values": [0,20,40,60,80,100], "labels": false, "tickSize": 3, "titleFontSize": 5.5, "titleFontWeight": "normal", "titlePadding": 13, "domainWidth": 1.2, "tickWidth": 0.8}},
       "color": {"condition": {"test": "datum.grp === 'sunitinib 10'", "value": {"gradient": "linear", "x1": 0, "y1": 0, "x2": 0, "y2": 1, "stops": [
         {"offset":0,"color":"#555"},{"offset":0.0417,"color":"#555"},{"offset":0.0417,"color":"#e0e0e0"},{"offset":0.0833,"color":"#e0e0e0"},
         {"offset":0.0833,"color":"#555"},{"offset":0.125,"color":"#555"},{"offset":0.125,"color":"#e0e0e0"},{"offset":0.1667,"color":"#e0e0e0"},
         {"offset":0.1667,"color":"#555"},{"offset":0.2083,"color":"#555"},{"offset":0.2083,"color":"#e0e0e0"},{"offset":0.25,"color":"#e0e0e0"},
         {"offset":0.25,"color":"#555"},{"offset":0.2917,"color":"#555"},{"offset":0.2917,"color":"#e0e0e0"},{"offset":0.3333,"color":"#e0e0e0"},
         {"offset":0.3333,"color":"#555"},{"offset":0.375,"color":"#555"},{"offset":0.375,"color":"#e0e0e0"},{"offset":0.4167,"color":"#e0e0e0"},
         {"offset":0.4167,"color":"#555"},{"offset":0.4583,"color":"#555"},{"offset":0.4583,"color":"#e0e0e0"},{"offset":0.5,"color":"#e0e0e0"},
         {"offset":0.5,"color":"#555"},{"offset":0.5417,"color":"#555"},{"offset":0.5417,"color":"#e0e0e0"},{"offset":0.5833,"color":"#e0e0e0"},
         {"offset":0.5833,"color":"#555"},{"offset":0.625,"color":"#555"},{"offset":0.625,"color":"#e0e0e0"},{"offset":0.6667,"color":"#e0e0e0"},
         {"offset":0.6667,"color":"#555"},{"offset":0.7083,"color":"#555"},{"offset":0.7083,"color":"#e0e0e0"},{"offset":0.75,"color":"#e0e0e0"},
         {"offset":0.75,"color":"#555"},{"offset":0.7917,"color":"#555"},{"offset":0.7917,"color":"#e0e0e0"},{"offset":0.8333,"color":"#e0e0e0"},
         {"offset":0.8333,"color":"#555"},{"offset":0.875,"color":"#555"},{"offset":0.875,"color":"#e0e0e0"},{"offset":0.9167,"color":"#e0e0e0"},
         {"offset":0.9167,"color":"#555"},{"offset":0.9583,"color":"#555"},{"offset":0.9583,"color":"#e0e0e0"},{"offset":1,"color":"#e0e0e0"}]}},
         "field": "grp", "type": "nominal", "scale": {"domain": ["NT","0,5","1","2","5","10","sunitinib 10"], "range": ["#111111","#bdbdbd","#5a5a5a","#f7f7f7","#6b6b6b","#b3b3b3","#999999"]},
         "legend": {"orient": "none", "legendX": 12, "legendY": -6, "title": null, "labelFontSize": 5, "labelColor": "#222", "symbolType": "M-1,-0.6H1V0.6H-1Z", "symbolSize": 36, "symbolStrokeColor": "#111", "symbolStrokeWidth": 0.6, "rowPadding": 1.8, "labelOffset": 3, "padding": 0}}
      }},
     {"data": {"name": "pi"}, "transform": [{"filter": "datum.cell === 'NCI-H720' && datum.top > datum.v"}],
      "mark": {"type": "rule", "color": "#111", "strokeWidth": 0.7},
      "encoding": {"x": {"field": "hr", "type": "nominal", "title": "Hours"}, "xOffset": {"field": "grp", "type": "nominal"}, "y": {"field": "v", "type": "quantitative", "title": "PI + %"}, "y2": {"field": "top"}}},
     {"data": {"name": "pi"}, "transform": [{"filter": "datum.cell === 'NCI-H720' && datum.top > datum.v"}],
      "mark": {"type": "tick", "color": "#111", "size": 3, "thickness": 0.7},
      "encoding": {"x": {"field": "hr", "type": "nominal", "title": "Hours"}, "xOffset": {"field": "grp", "type": "nominal"}, "y": {"field": "top", "type": "quantitative", "title": "PI + %"}}},
     {"data": {"name": "ytB"},
      "mark": {"type": "text", "align": "right", "baseline": "middle", "dx": -12.8, "fontSize": 5.5, "fill": "#111"},
      "encoding": {"x": {"datum": "24", "type": "nominal", "bandPosition": 0}, "y": {"field": "v", "type": "quantitative", "title": "PI + %"}, "text": {"field": "t"}}}
    ]
   }
  ]
 },
 {
  "title": {"text": "C", "anchor": "start", "frame": "group", "fontSize": 15, "fontWeight": "normal", "color": "#000", "offset": 1, "dx": -31},
  "spacing": 100,
  "bounds": "flush",
  "resolve": {"scale": {"color": "independent"}},
  "hconcat": [
   {
    "width": 130, "height": 104, "title": {"text": "colony BON1", "fontSize": 10.5, "offset": 7, "dx": -6, "color": "#111"},
    "layer": [
     {"data": {"name": "col"}, "transform": [{"filter": "datum.cell === 'BON1'"}],
      "mark": {"type": "bar", "size": 13, "stroke": "#000", "strokeWidth": 1.2},
      "encoding": {
       "x": {"field": "i", "type": "quantitative", "title": "replated at 72h", "scale": {"domain": [-0.625, 6.15], "nice": false, "zero": false}, "axis": {"values": [2.5], "labels": false, "tickSize": 3, "tickWidth": 1.5, "domainWidth": 1.5, "titleFontSize": 8.5, "titleFontWeight": "bold", "titlePadding": 0}},
       "y": {"field": "v", "type": "quantitative", "stack": null, "title": "% of surviving colonies", "scale": {"domain": [0, 200], "nice": false}, "axis": {"values": [0,50,100,150,200], "labels": false, "tickSize": 4, "tickWidth": 1.5, "domainWidth": 1.5, "titleFontSize": 9.5, "titleFontWeight": "bold", "titlePadding": 16}},
       "color": {"field": "grp", "type": "nominal", "scale": {"domain": ["NT","0,5","1","2","5","10"], "range": ["#000000","#a0a0a0","#7a7a7a","#dcdcdc","#555555","#a8a8a8"]},
                 "legend": {"orient": "none", "legendX": 145, "legendY": -7, "title": null, "labelFontSize": 10, "labelColor": "#111", "symbolType": "M-1,-0.62H1V0.62H-1Z", "symbolSize": 150, "symbolStrokeColor": "#000", "symbolStrokeWidth": 1.6, "rowPadding": 0.8, "labelOffset": 5, "padding": 0}}
      }},
     {"data": {"name": "col"}, "transform": [{"filter": "datum.cell === 'BON1'"}],
      "mark": {"type": "errorbar", "color": "#000", "thickness": 1.2, "ticks": {"size": 7, "thickness": 1.2}},
      "encoding": {"x": {"field": "i", "type": "quantitative", "title": "replated at 72h"}, "y": {"field": "v", "type": "quantitative", "title": "% of surviving colonies"}, "y2": {"field": "hi"}}},
     {"data": {"name": "sigC"}, "transform": [{"filter": "datum.cell === 'BON1'"}],
      "mark": {"type": "rule", "color": "#000", "strokeWidth": 1.4},
      "encoding": {"x": {"field": "x0", "type": "quantitative", "title": "replated at 72h"}, "x2": {"field": "x2"}, "y": {"field": "y", "type": "quantitative", "title": "% of surviving colonies"}}},
     {"data": {"name": "sigC"}, "transform": [{"filter": "datum.cell === 'BON1' && datum.lab !== 'ns'"}],
      "mark": {"type": "text", "baseline": "bottom", "dy": -0.5, "fontSize": 7, "fontWeight": "bold", "fill": "#111"},
      "encoding": {"x": {"field": "mx", "type": "quantitative", "title": "replated at 72h"}, "y": {"field": "y", "type": "quantitative", "title": "% of surviving colonies"}, "text": {"field": "lab"}}},
     {"data": {"name": "ytC"},
      "mark": {"type": "text", "align": "right", "baseline": "middle", "dx": -5.5, "fontSize": 8, "fontWeight": "bold", "fill": "#111"},
      "encoding": {"x": {"datum": -0.625, "type": "quantitative"}, "y": {"field": "v", "type": "quantitative", "title": "% of surviving colonies"}, "text": {"field": "t"}}}
    ]
   },
   {
    "width": 118, "height": 104, "title": {"text": "colony NCI-H727", "fontSize": 10.5, "offset": 7, "color": "#111"},
    "layer": [
     {"data": {"name": "col"}, "transform": [{"filter": "datum.cell === 'NCI-H727'"}],
      "mark": {"type": "bar", "size": 13, "stroke": "#000", "strokeWidth": 1.2},
      "encoding": {
       "x": {"field": "i", "type": "quantitative", "title": "replated at 72h", "scale": {"domain": [-0.69, 5.59], "nice": false, "zero": false}, "axis": {"values": [2.5], "labels": false, "tickSize": 3, "tickWidth": 1.5, "domainWidth": 1.5, "titleFontSize": 8.5, "titleFontWeight": "bold", "titlePadding": 0}},
       "y": {"field": "v", "type": "quantitative", "stack": null, "title": "% of surviving colonies", "scale": {"domain": [0, 200], "nice": false}, "axis": {"values": [0,50,100,150,200], "labels": false, "tickSize": 4, "tickWidth": 1.5, "domainWidth": 1.5, "titleFontSize": 9.5, "titleFontWeight": "bold", "titlePadding": 16}},
       "color": {"field": "grp", "type": "nominal", "scale": {"domain": ["NT","0,5","1","2","5","10"], "range": ["#000000","#a0a0a0","#7a7a7a","#dcdcdc","#555555","#a8a8a8"]},
                 "legend": {"orient": "none", "legendX": 147, "legendY": -7, "title": null, "labelFontSize": 10, "labelColor": "#111", "symbolType": "M-1,-0.62H1V0.62H-1Z", "symbolSize": 150, "symbolStrokeColor": "#000", "symbolStrokeWidth": 1.6, "rowPadding": 0.8, "labelOffset": 5, "padding": 0}}
      }},
     {"data": {"name": "col"}, "transform": [{"filter": "datum.cell === 'NCI-H727'"}],
      "mark": {"type": "errorbar", "color": "#000", "thickness": 1.2, "ticks": {"size": 7, "thickness": 1.2}},
      "encoding": {"x": {"field": "i", "type": "quantitative", "title": "replated at 72h"}, "y": {"field": "v", "type": "quantitative", "title": "% of surviving colonies"}, "y2": {"field": "hi"}}},
     {"data": {"name": "sigC"}, "transform": [{"filter": "datum.cell === 'NCI-H727'"}],
      "mark": {"type": "rule", "color": "#000", "strokeWidth": 1.4},
      "encoding": {"x": {"field": "x0", "type": "quantitative", "title": "replated at 72h"}, "x2": {"field": "x2"}, "y": {"field": "y", "type": "quantitative", "title": "% of surviving colonies"}}},
     {"data": {"name": "sigC"}, "transform": [{"filter": "datum.cell === 'NCI-H727' && datum.lab !== 'ns'"}],
      "mark": {"type": "text", "baseline": "bottom", "dy": -0.5, "fontSize": 7, "fontWeight": "bold", "fill": "#111"},
      "encoding": {"x": {"field": "mx", "type": "quantitative", "title": "replated at 72h"}, "y": {"field": "y", "type": "quantitative", "title": "% of surviving colonies"}, "text": {"field": "lab"}}},
     {"data": {"name": "sigC"}, "transform": [{"filter": "datum.cell === 'NCI-H727' && datum.lab === 'ns'"}],
      "mark": {"type": "text", "baseline": "bottom", "dy": -1.5, "fontSize": 5.5, "fill": "#555"},
      "encoding": {"x": {"field": "mx", "type": "quantitative", "title": "replated at 72h"}, "y": {"field": "y", "type": "quantitative", "title": "% of surviving colonies"}, "text": {"field": "lab"}}},
     {"data": {"name": "ytC"},
      "mark": {"type": "text", "align": "right", "baseline": "middle", "dx": -5.5, "fontSize": 8, "fontWeight": "bold", "fill": "#111"},
      "encoding": {"x": {"datum": -0.69, "type": "quantitative"}, "y": {"field": "v", "type": "quantitative", "title": "% of surviving colonies"}, "text": {"field": "t"}}}
    ]
   },
   {
    "width": 121, "height": 104, "title": {"text": "colony NCI-H720", "fontSize": 10.5, "offset": 7, "color": "#111"},
    "layer": [
     {"data": {"name": "col"}, "transform": [{"filter": "datum.cell === 'NCI-H720'"}],
      "mark": {"type": "bar", "size": 13, "stroke": "#000", "strokeWidth": 1.2},
      "encoding": {
       "x": {"field": "i", "type": "quantitative", "title": "replated at 72h", "scale": {"domain": [-0.82, 5.38], "nice": false, "zero": false}, "axis": {"values": [2.5], "labels": false, "tickSize": 3, "tickWidth": 1.5, "domainWidth": 1.5, "titleFontSize": 8.5, "titleFontWeight": "bold", "titlePadding": 0}},
       "y": {"field": "v", "type": "quantitative", "stack": null, "title": "% of surviving colonies", "scale": {"domain": [0, 200], "nice": false}, "axis": {"values": [0,50,100,150,200], "labels": false, "tickSize": 4, "tickWidth": 1.5, "domainWidth": 1.5, "titleFontSize": 9.5, "titleFontWeight": "bold", "titlePadding": 16}},
       "color": {"field": "grp", "type": "nominal", "scale": {"domain": ["NT","0,5","1","2","5","10"], "range": ["#000000","#a0a0a0","#7a7a7a","#dcdcdc","#555555","#a8a8a8"]},
                 "legend": {"orient": "none", "legendX": 147, "legendY": -7, "title": null, "labelFontSize": 10, "labelColor": "#111", "symbolType": "M-1,-0.62H1V0.62H-1Z", "symbolSize": 150, "symbolStrokeColor": "#000", "symbolStrokeWidth": 1.6, "rowPadding": 0.8, "labelOffset": 5, "padding": 0}}
      }},
     {"data": {"name": "col"}, "transform": [{"filter": "datum.cell === 'NCI-H720'"}],
      "mark": {"type": "errorbar", "color": "#000", "thickness": 1.2, "ticks": {"size": 7, "thickness": 1.2}},
      "encoding": {"x": {"field": "i", "type": "quantitative", "title": "replated at 72h"}, "y": {"field": "v", "type": "quantitative", "title": "% of surviving colonies"}, "y2": {"field": "hi"}}},
     {"data": {"name": "sigC"}, "transform": [{"filter": "datum.cell === 'NCI-H720'"}],
      "mark": {"type": "rule", "color": "#000", "strokeWidth": 1.4},
      "encoding": {"x": {"field": "x0", "type": "quantitative", "title": "replated at 72h"}, "x2": {"field": "x2"}, "y": {"field": "y", "type": "quantitative", "title": "% of surviving colonies"}}},
     {"data": {"name": "sigC"}, "transform": [{"filter": "datum.cell === 'NCI-H720' && datum.lab !== 'ns'"}],
      "mark": {"type": "text", "baseline": "bottom", "dy": -0.5, "fontSize": 7, "fontWeight": "bold", "fill": "#111"},
      "encoding": {"x": {"field": "mx", "type": "quantitative", "title": "replated at 72h"}, "y": {"field": "y", "type": "quantitative", "title": "% of surviving colonies"}, "text": {"field": "lab"}}},
     {"data": {"name": "sigC"}, "transform": [{"filter": "datum.cell === 'NCI-H720' && datum.lab === 'ns'"}],
      "mark": {"type": "text", "baseline": "bottom", "dy": -1.5, "fontSize": 5.5, "fill": "#555"},
      "encoding": {"x": {"field": "mx", "type": "quantitative", "title": "replated at 72h"}, "y": {"field": "y", "type": "quantitative", "title": "% of surviving colonies"}, "text": {"field": "lab"}}},
     {"data": {"name": "ytC"},
      "mark": {"type": "text", "align": "right", "baseline": "middle", "dx": -5.5, "fontSize": 8, "fontWeight": "bold", "fill": "#111"},
      "encoding": {"x": {"datum": -0.82, "type": "quantitative"}, "y": {"field": "v", "type": "quantitative", "title": "% of surviving colonies"}, "text": {"field": "t"}}}
    ]
   }
  ]
 }
]
}
